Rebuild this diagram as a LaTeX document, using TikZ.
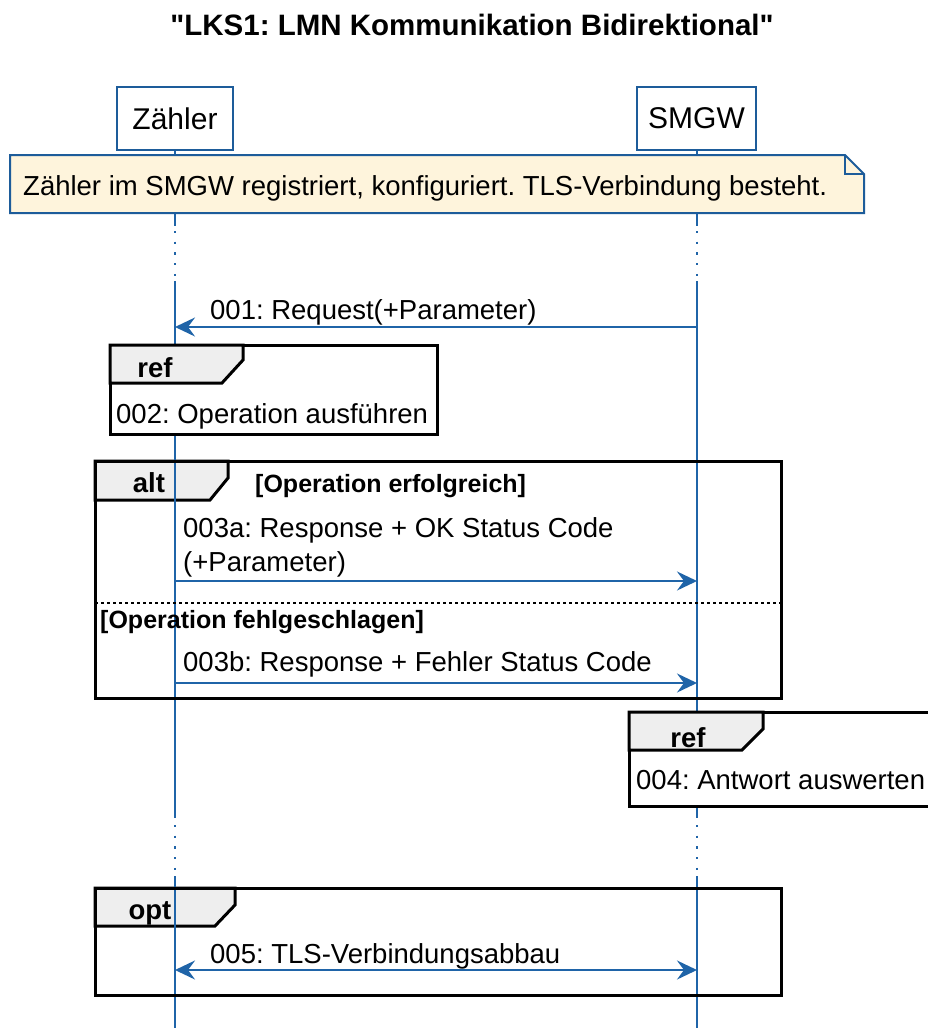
\documentclass[tikz,border=0pt]{standalone}
\usepackage{fontspec}
\setmainfont{Liberation Sans}[Ligatures=TeXOff]
\usetikzlibrary{arrows.meta}
\definecolor{lineblue}{HTML}{1F64A8}
\definecolor{partblue}{HTML}{1D5C9A}
\definecolor{notefill}{HTML}{FEF4DC}
\definecolor{tabfill}{HTML}{EEEEEE}
\frenchspacing
\tikzset{
  body/.style={font=\fontsize{27.5}{32}\selectfont},
  lbl/.style={body, anchor=base west, inner sep=0pt},
  guard/.style={font=\fontsize{25}{29}\selectfont\bfseries, anchor=base west, inner sep=0pt},
  tablbl/.style={font=\fontsize{27.5}{31}\selectfont\bfseries, anchor=base, inner sep=0pt},
  part/.style={draw=partblue, line width=2.5pt, fill=white, font=\fontsize{30}{34}\selectfont, inner sep=0pt},
  life/.style={draw=lineblue, line width=1.8pt},
  lifedot/.style={draw=lineblue, line width=2.4pt, dash pattern=on 2.2pt off 8.5pt},
  msg/.style={draw=lineblue, line width=2pt, -{Stealth[length=20pt,width=19pt,inset=7pt]}},
  bimsg/.style={draw=lineblue, line width=2pt, {Stealth[length=20pt,width=19pt,inset=7pt]}-{Stealth[length=20pt,width=19pt,inset=7pt]}},
  frameline/.style={draw=black, line width=3pt},
  tabshape/.style={draw=black, line width=3pt, fill=tabfill, line join=miter},
  sep/.style={draw=black, line width=1.5pt, dash pattern=on 3pt off 3pt}
}
\begin{document}
\begin{tikzpicture}[x=1pt,y=-1pt]
\useasboundingbox (0,0) rectangle (928,1028);
\fill[white] (0,0) rectangle (928,1028);

% title
\node[font=\fontsize{29.5}{34}\selectfont\bfseries, anchor=base, inner sep=0pt] (title) at (472,35) {"LKS1: LMN Kommunikation Bidirektional"};

% tab fills of combined fragments (under lifelines)
\draw[tabshape] (95,461) -- (228,461) -- (228,478) -- (210,500) -- (95,500) -- cycle;
\draw[tabshape] (95,888) -- (235,888) -- (235,905) -- (215,926) -- (95,926) -- cycle;

% lifelines
\coordinate (zA) at (175,150);
\coordinate (zB) at (175,226);
\coordinate (zC) at (175,231);
\coordinate (zD) at (175,278);
\coordinate (zE) at (175,281);
\coordinate (zF) at (175,818);
\coordinate (zG) at (175,825);
\coordinate (zH) at (175,872);
\coordinate (zI) at (175,876);
\coordinate (zJ) at (175,1030);
\coordinate (sA) at (697,150);
\coordinate (sB) at (697,226);
\coordinate (sC) at (697,231);
\coordinate (sD) at (697,278);
\coordinate (sE) at (697,281);
\coordinate (sF) at (697,818);
\coordinate (sG) at (697,825);
\coordinate (sH) at (697,872);
\coordinate (sI) at (697,876);
\coordinate (sJ) at (697,1030);
\draw[life] (zA) -- (zB);
\draw[lifedot] (zC) -- (zD);
\draw[life] (zE) -- (zF);
\draw[lifedot] (zG) -- (zH);
\draw[life] (zI) -- (zJ);
\draw[life] (sA) -- (sB);
\draw[lifedot] (sC) -- (sD);
\draw[life] (sE) -- (sF);
\draw[lifedot] (sG) -- (sH);
\draw[life] (sI) -- (sJ);

% participants
\node[part, minimum width=116pt, minimum height=63pt] (zaehler) at (175,118.5) {Zähler};
\node[part, minimum width=119pt, minimum height=63pt] (smgw) at (696.5,118.5) {SMGW};

% note
\draw[draw=partblue, line width=2pt, fill=notefill, line join=miter]
  (10,155) -- (845,155) -- (864,174) -- (864,213) -- (10,213) -- cycle;
\draw[draw=partblue, line width=2pt] (845,155) -- (845,174) -- (864,174);
\node[lbl] (notetext) at (23,195) {Zähler im SMGW registriert, konfiguriert. TLS-Verbindung besteht.};

% message 001
\coordinate (s1) at (697,327);
\coordinate (z1) at (175,327);
\draw[msg] (s1) -- (z1);
\node[lbl] (m1) at (210,319) {001: Request(+Parameter)};

% ref 002
\draw[frameline, fill=white] (110,345) rectangle (437,434);
\draw[tabshape] (110,345) -- (243,345) -- (243,360) -- (222,383) -- (110,383) -- cycle;
\node[tablbl] (ref1) at (155,377) {ref};
\node[lbl] (r1text) at (116,423) {002: Operation ausführen};

% alt frame
\draw[frameline] (95,461) rectangle (781,698);
\node[tablbl] (altlbl) at (149,492) {alt};
\node[guard] (g1) at (255,492) {[Operation erfolgreich]};
\node[lbl] (m3a) at (183,537) {003a: Response + OK Status Code};
\node[lbl] (m3a2) at (183,571) {(+Parameter)};
\coordinate (z3a) at (175,581);
\coordinate (s3a) at (697,581);
\draw[msg] (z3a) -- (s3a);
\coordinate (sepL) at (95,603);
\coordinate (sepR) at (781,603);
\draw[sep] (sepL) -- (sepR);
\node[guard] (g2) at (100,628) {[Operation fehlgeschlagen]};
\node[lbl] (m3b) at (183,671) {003b: Response + Fehler Status Code};
\coordinate (z3b) at (175,683);
\coordinate (s3b) at (697,683);
\draw[msg] (z3b) -- (s3b);

% ref 004
\draw[frameline, fill=white] (629,712) rectangle (945,806);
\draw[tabshape] (629,712) -- (763,712) -- (763,729) -- (742,750) -- (629,750) -- cycle;
\node[tablbl] (ref2) at (688,747) {ref};
\node[lbl] (r2text) at (636,789) {004: Antwort auswerten};

% opt frame
\draw[frameline] (95,888) rectangle (781,995);
\node[tablbl] (optlbl) at (150,919) {opt};
\node[lbl] (m5) at (210,963) {005: TLS-Verbindungsabbau};
\coordinate (z5) at (175,970);
\coordinate (s5) at (697,970);
\draw[bimsg] (z5) -- (s5);
\end{tikzpicture}
\end{document}
